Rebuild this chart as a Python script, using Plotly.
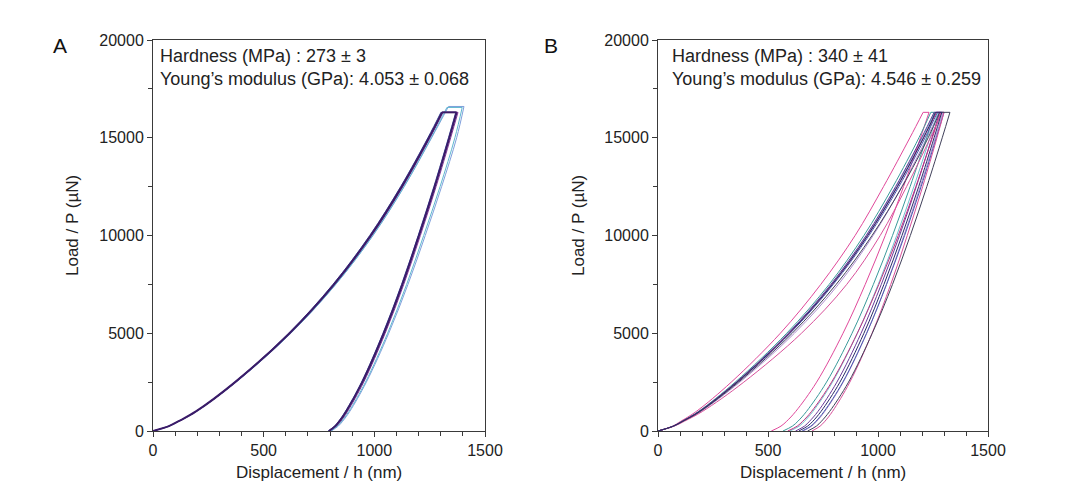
import plotly.graph_objects as go

# ---------------- data ----------------
LOAD_P = [0, 250, 500, 1000, 2500, 5000, 7500, 10000, 12500, 15000]      # µN, loading branch levels
UNLOAD_P = [15000, 12500, 10000, 7500, 5000, 2500, 1000, 500, 250, 0]     # µN, unloading branch levels

X_TICKS = [0, 500, 1000, 1500]
Y_TICKS = [0, 5000, 10000, 15000, 20000]

# Panel A curves: colour, Pmax, loading h (at LOAD_P + Pmax), unloading h (at Pmax + UNLOAD_P)
A_colors = ["#8a3a9e", "#2f3f95", "#7f9fdc", "#5fb7cf", "#3b1b68"]
A_pmax = [16300, 16300, 16600, 16550, 16300]
A_load = [
    [0, 72, 117, 196, 374, 621, 823, 989, 1129, 1252, 1311],
    [0, 71, 115, 193, 369, 613, 813, 979, 1119, 1242, 1301],
    [0, 73, 117, 196, 375, 623, 826, 994, 1135, 1259, 1335],
    [0, 73, 117, 196, 374, 622, 825, 993, 1134, 1257, 1328],
    [0, 72, 116, 194, 371, 617, 818, 984, 1124, 1247, 1306],
]
A_unload = [
    [1378, 1345, 1279, 1208, 1133, 1049, 952, 879, 849, 830, 801],
    [1368, 1335, 1269, 1198, 1123, 1039, 942, 869, 839, 820, 791],
    [1405, 1372, 1304, 1230, 1152, 1065, 964, 889, 857, 837, 806],
    [1397, 1364, 1297, 1223, 1146, 1060, 960, 885, 853, 833, 803],
    [1372, 1339, 1273, 1202, 1127, 1043, 946, 873, 843, 824, 795],
]
A_width = [1.0, 1.0, 1.0, 1.0, 2.0]

# Panel B curves
B_colors = ["#b090d0", "#70c0d0", "#e0489a", "#3a9a9a", "#6a3a9a",
            "#4a5ab0", "#c03080", "#d8509a", "#40405a", "#2a2a6a"]
B_pmax = [16300, 16300, 16300, 16300, 16300, 16300, 16300, 16300, 16300, 16300]
B_load = [
    [0, 72, 116, 195, 372, 620, 820, 978, 1108, 1222, 1278],
    [0, 70, 112, 187, 357, 594, 788, 949, 1083, 1201, 1258],
    [0, 66, 104, 174, 333, 556, 740, 896, 1025, 1145, 1205],
    [0, 69, 110, 184, 351, 585, 778, 936, 1068, 1186, 1240],
    [0, 70, 111, 187, 356, 592, 786, 946, 1080, 1198, 1255],
    [0, 71, 113, 189, 361, 601, 797, 959, 1095, 1214, 1270],
    [0, 70, 112, 188, 359, 597, 792, 953, 1088, 1207, 1266],
    [0, 74, 120, 202, 390, 652, 858, 1010, 1130, 1238, 1290],
    [0, 71, 114, 192, 366, 610, 810, 973, 1110, 1228, 1280],
    [0, 70, 112, 188, 359, 597, 792, 953, 1088, 1207, 1262],
]
B_unload = [
    [1295, 1261, 1192, 1118, 1038, 949, 842, 758, 722, 699, 660],
    [1272, 1236, 1163, 1085, 1001, 906, 793, 704, 666, 642, 600],
    [1232, 1193, 1116, 1033, 942, 841, 721, 626, 585, 559, 515],
    [1258, 1221, 1146, 1066, 979, 882, 766, 675, 636, 611, 568],
    [1280, 1245, 1174, 1098, 1015, 923, 813, 727, 689, 666, 625],
    [1300, 1265, 1196, 1121, 1039, 948, 840, 755, 718, 695, 655],
    [1285, 1247, 1172, 1092, 1004, 906, 789, 698, 658, 633, 590],
    [1300, 1268, 1203, 1133, 1058, 973, 872, 793, 759, 737, 700],
    [1327, 1292, 1222, 1147, 1066, 974, 866, 780, 743, 720, 680],
    [1290, 1255, 1185, 1109, 1027, 936, 827, 741, 704, 680, 640],
]
B_width = [1.0] * 10

A_TEXT = ["Hardness (MPa) : 273 ± 3", "Young’s modulus (GPa): 4.053 ± 0.068"]
B_TEXT = ["Hardness (MPa) : 340 ± 41", "Young’s modulus (GPa): 4.546 ± 0.259"]

# ---------------- figure ----------------
W, H = 1080, 498
OFF = 8  # page body margin offset in the browser
FONT = "Liberation Sans, Arial, sans-serif"
fig = go.Figure()


def px_x(p):
    return (p - OFF) / W


def px_y(p):
    return 1 - (p - OFF) / H


def add_curves(colors, pmax, loads, unloads, widths, xa, ya):
    for c, pm, lh, uh, w in zip(colors, pmax, loads, unloads, widths):
        ly = LOAD_P + [pm]
        uy = [pm] + UNLOAD_P
        xs = lh + [None] + [lh[-1], uh[0]] + [None] + uh
        ys = ly + [None] + [pm, pm] + [None] + uy
        fig.add_trace(go.Scatter(
            x=xs, y=ys, mode="lines", xaxis=xa, yaxis=ya,
            line=dict(color=c, width=w, shape="spline", smoothing=1.0),
            connectgaps=False, showlegend=False, hoverinfo="skip"))


add_curves(A_colors, A_pmax, A_load, A_unload, A_width, "x", "y")
add_curves(B_colors, B_pmax, B_load, B_unload, B_width, "x2", "y2")

axcol = "#3a3a3a"
tickfont = dict(family=FONT, size=16, color="#222")

xcommon = dict(range=[0, 1500], tickvals=X_TICKS, ticktext=[str(v) for v in X_TICKS],
               ticks="outside", ticklen=5,
               tickcolor=axcol, showline=True, linecolor=axcol, linewidth=1,
               mirror=True, showgrid=False, zeroline=False, tickfont=tickfont,
               minor=dict(dtick=100, tick0=0, ticks="outside", ticklen=4,
                          tickcolor=axcol, showgrid=False))
ycommon = dict(range=[0, 20000], tickvals=Y_TICKS, ticktext=[str(v) for v in Y_TICKS],
               ticks="outside", ticklen=5,
               tickcolor=axcol, showline=True, linecolor=axcol, linewidth=1,
               mirror=True, showgrid=False, zeroline=False, tickfont=tickfont,
               minor=dict(dtick=2500, tick0=0, ticks="outside", ticklen=4,
                          tickcolor=axcol, showgrid=False))

ydom = [px_y(431), px_y(40)]
fig.update_layout(
    width=W, height=H, margin=dict(l=0, r=0, t=0, b=0, autoexpand=False),
    paper_bgcolor="white", plot_bgcolor="white",
    font=dict(family=FONT, color="#222"),
    xaxis=dict(domain=[px_x(153), px_x(485)], anchor="y", automargin=False, **xcommon),
    yaxis=dict(domain=ydom, anchor="x", automargin=False, **ycommon),
    xaxis2=dict(domain=[px_x(658), px_x(988)], anchor="y2", automargin=False, **xcommon),
    yaxis2=dict(domain=ydom, anchor="x2", automargin=False, **ycommon),
)

ann = []
for letter, lx in (("A", 60), ("B", 551)):
    ann.append(dict(text=letter, x=px_x(lx), y=px_y(45), xref="paper", yref="paper",
                    xanchor="center", yanchor="middle", showarrow=False,
                    font=dict(family=FONT, size=21, color="#111")))
for xc in ((153 + 485) / 2, (658 + 988) / 2):
    ann.append(dict(text="Displacement / h (nm)", x=px_x(xc), y=px_y(472),
                    xref="paper", yref="paper", xanchor="center", yanchor="middle",
                    showarrow=False, font=dict(family=FONT, size=17, color="#222")))
for xl in (72, 578):
    ann.append(dict(text="Load / P (µN)", x=px_x(xl), y=px_y(226), textangle=-90,
                    xref="paper", yref="paper", xanchor="center", yanchor="middle",
                    showarrow=False, font=dict(family=FONT, size=17, color="#222")))
for txt, tx in ((A_TEXT, 158), (B_TEXT, 670)):
    ann.append(dict(text="<br>".join(txt), x=px_x(tx), y=px_y(44), xref="paper",
                    yref="paper", xanchor="left", yanchor="top", align="left",
                    showarrow=False, font=dict(family=FONT, size=18, color="#222")))
fig.update_layout(annotations=ann)

fig.write_html("out.html")
